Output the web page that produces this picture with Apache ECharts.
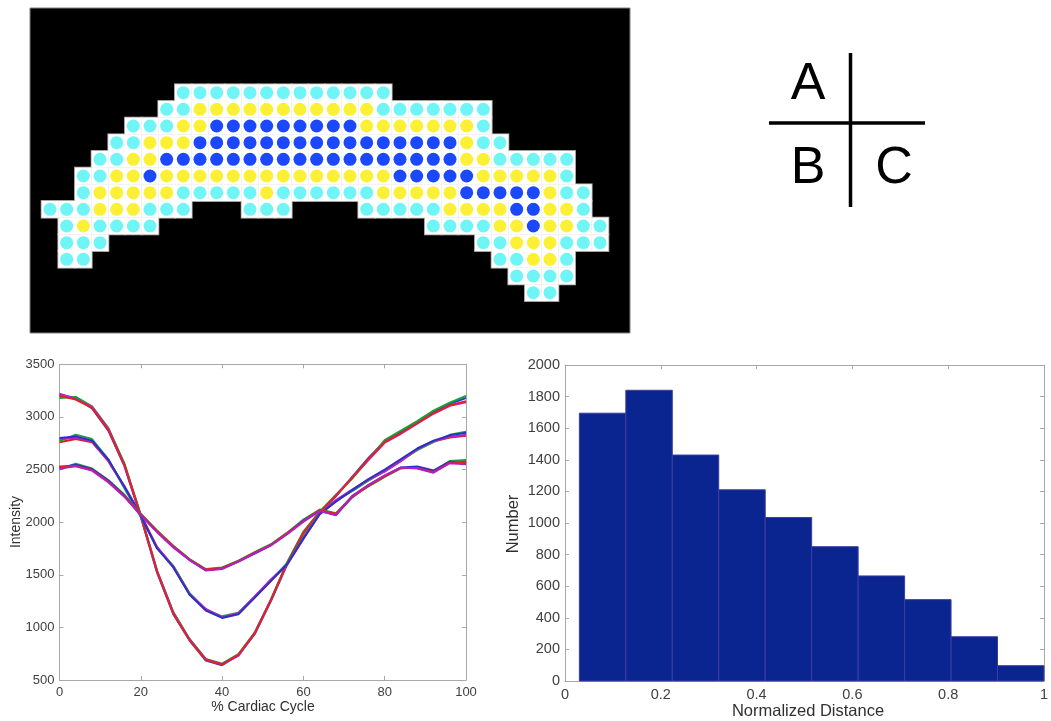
<!DOCTYPE html>
<html><head><meta charset="utf-8">
<script src="https://cdn.jsdelivr.net/npm/echarts/dist/echarts.min.js"></script>
<style>html,body{margin:0;padding:0;background:#fff}#c{width:1051px;height:721px}</style>
</head><body><div id="c"></div><script>
// ---- Panel 1: pixel map (rows of cells: C = cyan, Y = yellow, B = blue, . = none)
const maskRows = [
  "........CCCCCCCCCCCCC.............",
  ".......CCYYYYYYYYYYYCCCCCCC.......",
  ".....CCCYYBBBBBBBBBYYYYYYYC.......",
  "....CCYYYBBBBBBBBBBBBBBBBYCC......",
  "...CCYYBBBBBBBBBBBBBBBBBBYYCCCCC..",
  "..CCYYBYYYYYYYYYYYYYYBBBBBYYYYYC..",
  "..CYYYYYCCCCCYCCCCCCYYYYYBBBBBYCC.",
  "CCCYYYCCC...CCC....CCCCCYYYYBBYYC.",
  ".CYCCCC................CCCCYYBYYCC",
  ".CCC......................CCYYYCCC",
  ".CC........................CCYYC..",
  "............................CCCC..",
  ".............................CC..."
];
const dotColors = { C: '#6ff5f5', Y: '#fcf035', B: '#1c48fb' };

// ---- Panel 2: intensity curves (% cardiac cycle)
const cycleX = [0,4,8,12,16,20,24,28,32,36,40,44,48,52,56,60,64,68,72,76,80,84,88,92,96,100];
const groupA = [
  [3210,3180,3080,2870,2530,2050,1520,1125,875,685,640,735,935,1250,1600,1895,2080,2245,2430,2610,2770,2860,2950,3050,3125,3180],
  [3180,3190,3100,2895,2555,2070,1540,1145,890,700,655,745,950,1265,1620,1910,2100,2260,2415,2595,2780,2870,2960,3060,3135,3200],
  [3220,3170,3095,2890,2535,2055,1535,1140,885,695,650,730,945,1260,1605,1890,2085,2255,2425,2590,2755,2840,2935,3030,3105,3140],
  [3200,3165,3085,2880,2545,2065,1530,1130,880,690,648,740,940,1255,1610,1900,2095,2250,2420,2600,2760,2845,2940,3035,3110,3150]
];
const groupB = [
  [2760,2790,2760,2580,2330,2065,1755,1580,1320,1165,1100,1130,1285,1445,1600,1850,2080,2200,2300,2400,2490,2590,2690,2765,2805,2820],
  [2770,2830,2790,2600,2320,2050,1760,1585,1325,1170,1105,1140,1290,1450,1610,1855,2085,2205,2295,2395,2485,2585,2685,2760,2830,2860],
  [2790,2800,2765,2585,2340,2070,1765,1575,1315,1175,1095,1135,1295,1455,1595,1840,2075,2210,2310,2405,2480,2580,2695,2770,2810,2830],
  [2800,2815,2775,2595,2335,2060,1750,1570,1310,1160,1090,1125,1280,1440,1600,1845,2075,2195,2305,2410,2500,2600,2700,2775,2825,2850]
];
const groupC = [
  [2500,2555,2510,2400,2260,2080,1920,1775,1650,1555,1570,1635,1715,1790,1900,2025,2120,2085,2245,2340,2430,2510,2525,2485,2580,2590],
  [2520,2545,2505,2395,2250,2070,1910,1765,1640,1545,1560,1625,1700,1780,1890,2015,2110,2070,2235,2350,2440,2520,2530,2490,2575,2560],
  [2530,2535,2495,2385,2245,2075,1915,1770,1645,1550,1565,1630,1710,1785,1895,2010,2115,2080,2240,2345,2435,2515,2515,2475,2565,2575],
  [2510,2530,2490,2380,2240,2065,1905,1760,1640,1540,1555,1625,1705,1780,1885,2005,2105,2065,2250,2355,2445,2520,2510,2470,2560,2550]
];
const colorsA = ['#1f3fe0', '#18a030', '#c81ec8', '#e02424'];
const colorsB = ['#d42020', '#20a040', '#c020c0', '#2a30c8'];
const colorsC = ['#20a040', '#2a30c8', '#e02424', '#b020c0'];

// ---- Panel 3: histogram
const binLeft  = [0.03, 0.127, 0.224, 0.321, 0.418, 0.515, 0.612, 0.709, 0.806, 0.903];
const binRight = [0.127, 0.224, 0.321, 0.418, 0.515, 0.612, 0.709, 0.806, 0.903, 1.0];
const binCount = [1695, 1840, 1430, 1210, 1035, 850, 665, 515, 280, 97];

const FONT = '"Liberation Sans", Arial, sans-serif';
const AX = '#a8a8a8';
const LBL = '#404040';

const cellsAll = [], cellsBy = { C: [], Y: [], B: [] };
maskRows.forEach((row, r) => {
  [...row].forEach((ch, c) => {
    if (ch !== '.') { cellsAll.push([c, r]); cellsBy[ch].push([c, r]); }
  });
});

function plain(v) { return String(Math.round(v * 1000) / 1000); }

function boxAxes(gridIndex, xr, yr, fs, tickLen) {
  const lineStyle = { color: AX, width: 1 };
  const lab = { color: LBL, fontSize: fs, fontFamily: FONT, formatter: plain };
  const xs = [
    { gridIndex, type: 'value', min: xr[0], max: xr[1], interval: xr[2], position: 'bottom',
      axisLine: { show: true, onZero: false, lineStyle }, axisTick: { inside: true, length: tickLen, lineStyle },
      axisLabel: Object.assign({ margin: 6 }, lab), splitLine: { show: false } },
    { gridIndex, type: 'value', min: xr[0], max: xr[1], interval: xr[2], position: 'top',
      axisLine: { show: true, onZero: false, lineStyle }, axisTick: { inside: true, length: tickLen, lineStyle },
      axisLabel: { show: false }, splitLine: { show: false } }
  ];
  const ys = [
    { gridIndex, type: 'value', min: yr[0], max: yr[1], interval: yr[2], position: 'left',
      axisLine: { show: true, onZero: false, lineStyle }, axisTick: { inside: true, length: tickLen, lineStyle },
      axisLabel: Object.assign({ margin: 5 }, lab), splitLine: { show: false } },
    { gridIndex, type: 'value', min: yr[0], max: yr[1], interval: yr[2], position: 'right',
      axisLine: { show: true, onZero: false, lineStyle }, axisTick: { inside: true, length: tickLen, lineStyle },
      axisLabel: { show: false }, splitLine: { show: false } }
  ];
  return { xs, ys };
}

const lineAx = boxAxes(1, [0, 100, 20], [500, 3500, 500], 13, 4);
const histAx = boxAxes(2, [0, 1, 0.2], [0, 2000, 200], 14.5, 4);

const series = [];
// panel 1
series.push({ type: 'scatter', xAxisIndex: 0, yAxisIndex: 0, data: cellsAll, symbol: 'rect', symbolSize: 18.6,
  itemStyle: { color: '#a0a0a0', opacity: 1 }, silent: true, z: 1 });
series.push({ type: 'scatter', xAxisIndex: 0, yAxisIndex: 0, data: cellsAll, symbol: 'rect', symbolSize: 16.9,
  itemStyle: { color: '#ffffff', opacity: 1 }, silent: true, z: 2 });
['C', 'Y', 'B'].forEach(k => {
  series.push({ type: 'scatter', xAxisIndex: 0, yAxisIndex: 0, data: cellsBy[k], symbol: 'circle', symbolSize: 13,
    itemStyle: { color: dotColors[k], opacity: 1 }, silent: true, z: 3 });
});
// panel 2
[[groupA, colorsA], [groupB, colorsB], [groupC, colorsC]].forEach(([grp, cols]) => {
  grp.forEach((vals, i) => {
    series.push({ type: 'line', xAxisIndex: 1, yAxisIndex: 1, data: cycleX.map((x, j) => [x, vals[j]]),
      symbol: 'none', lineStyle: { width: 2, color: cols[i] }, silent: true, z: 2 });
  });
});
// panel 3
series.push({ type: 'custom', xAxisIndex: 3, yAxisIndex: 3,
  data: binLeft.map((l, i) => [l, binRight[i], binCount[i]]),
  encode: { x: [0, 1], y: 2 }, silent: true,
  renderItem: (params, api) => {
    const p0 = api.coord([api.value(0), api.value(2)]);
    const p1 = api.coord([api.value(1), 0]);
    return { type: 'rect', shape: { x: p0[0], y: p0[1], width: p1[0] - p0[0], height: p1[1] - p0[1] },
      style: { fill: '#0b2590', stroke: '#3c3ca0', lineWidth: 1 } };
  } });

function txt(x, y, text, size, rot, fill) {
  return { type: 'text', x, y, rotation: rot || 0, silent: true,
    style: { text, font: size + 'px ' + FONT, fill: fill || '#000', textAlign: 'center', textVerticalAlign: 'middle', align: 'center', verticalAlign: 'middle' } };
}

const option = {
  animation: false,
  backgroundColor: '#ffffff',
  grid: [
    { left: 30, top: 8, width: 600, height: 325, show: true, backgroundColor: '#000', borderColor: '#808080', borderWidth: 1 },
    { left: 59.5, top: 364.3, width: 406.5, height: 315.7 },
    { left: 565, top: 365, width: 485, height: 316 }
  ],
  xAxis: [
    { gridIndex: 0, type: 'value', min: -1.2, max: 34.8, show: false },
    ...lineAx.xs, ...histAx.xs
  ],
  yAxis: [
    { gridIndex: 0, type: 'value', min: -5.08, max: 14.42, inverse: true, show: false },
    ...lineAx.ys, ...histAx.ys
  ],
  series,
  graphic: [
    { type: 'line', silent: true, shape: { x1: 769, y1: 123, x2: 925, y2: 123 }, style: { stroke: '#000', lineWidth: 3.5 } },
    { type: 'line', silent: true, shape: { x1: 850.5, y1: 53, x2: 850.5, y2: 207 }, style: { stroke: '#000', lineWidth: 3.5 } },
    txt(808, 85, 'A', 52),
    txt(808, 169, 'B', 52),
    txt(894, 169, 'C', 52),
    txt(263, 707, '% Cardiac Cycle', 14, 0, '#303030'),
    txt(16, 522, 'Intensity', 14, Math.PI / 2, '#303030'),
    txt(808, 711, 'Normalized Distance', 16.5, 0, '#303030'),
    txt(513, 524, 'Number', 16.5, Math.PI / 2, '#303030')
  ]
};

const chart = echarts.init(document.getElementById('c'), null, { renderer: 'canvas' });
chart.setOption(option);
</script></body></html>
